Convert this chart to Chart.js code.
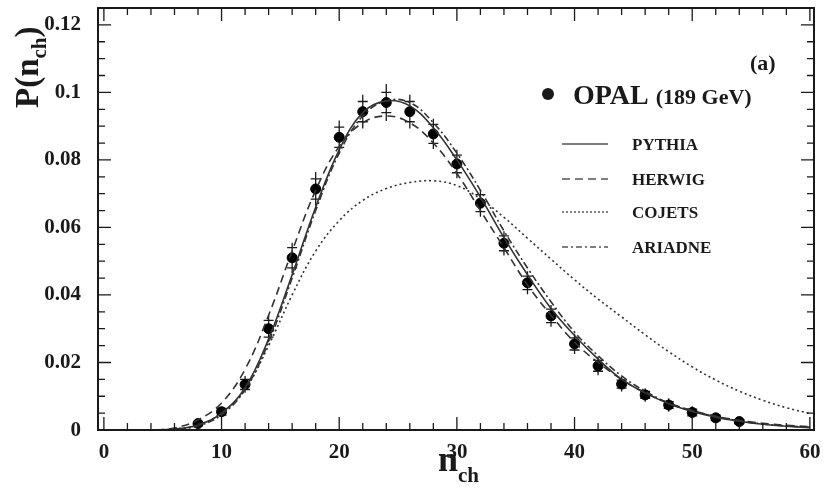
<!DOCTYPE html>
<html>
<head>
<meta charset="utf-8">
<script src="https://cdn.jsdelivr.net/npm/chart.js@4/dist/chart.umd.min.js"></script>
<style>
  body { margin: 0; background: #fff; }
  #wrap { width: 833px; height: 491px; }
</style>
</head>
<body>
<div id="wrap"><canvas id="chart" width="833" height="491"></canvas></div>
<script>
// OPAL data points (n_ch, P) with error bars
const opalN = [8, 10, 12, 14, 16, 18, 20, 22, 24, 26, 28, 30, 32, 34, 36, 38, 40, 42, 44, 46, 48, 50, 52, 54];
const opalP = [0.0019, 0.0054, 0.0135, 0.030, 0.051, 0.0714, 0.0867, 0.0943, 0.097, 0.0943, 0.0877, 0.0788, 0.0672, 0.0553, 0.0436, 0.0338, 0.0255, 0.019, 0.0136, 0.0104, 0.0074, 0.0052, 0.0036, 0.0025];
const opalErrOuter = [0.001, 0.0015, 0.0025, 0.004, 0.0045, 0.005, 0.005, 0.005, 0.0055, 0.005, 0.0045, 0.0042, 0.004, 0.0036, 0.0034, 0.0032, 0.003, 0.0028, 0.0022, 0.002, 0.002, 0.0018, 0.0015, 0.0012];
const opalErrInner = [0.0006, 0.001, 0.0015, 0.0025, 0.003, 0.003, 0.003, 0.003, 0.003, 0.003, 0.0028, 0.0026, 0.0025, 0.0022, 0.002, 0.002, 0.0018, 0.0016, 0.0012, 0.001, 0.001, 0.001, 0.0008, 0.0006];

// model curves, sampled every 2 units of n_ch
const curveN = [0, 2, 4, 6, 8, 10, 12, 14, 16, 18, 20, 22, 24, 26, 28, 30, 32, 34, 36, 38, 40, 42, 44, 46, 48, 50, 52, 54, 56, 58, 60];
const pythia = [0, 0, 0, 0.0003, 0.0015, 0.005, 0.0125, 0.027, 0.046, 0.066, 0.083, 0.094, 0.0975, 0.096, 0.0895, 0.080, 0.069, 0.057, 0.046, 0.036, 0.028, 0.021, 0.015, 0.011, 0.0078, 0.0055, 0.0038, 0.0026, 0.0017, 0.0011, 0.0007];
const herwig = [0, 0, 0, 0.0006, 0.003, 0.008, 0.018, 0.034, 0.053, 0.071, 0.084, 0.091, 0.093, 0.091, 0.085, 0.076, 0.065, 0.054, 0.043, 0.034, 0.026, 0.020, 0.015, 0.011, 0.008, 0.0058, 0.0041, 0.0029, 0.002, 0.0014, 0.001];
const cojets = [0, 0, 0, 0.0003, 0.0015, 0.005, 0.012, 0.025, 0.040, 0.053, 0.062, 0.068, 0.0715, 0.0733, 0.0738, 0.0724, 0.0685, 0.063, 0.0568, 0.0506, 0.0445, 0.0388, 0.0335, 0.0282, 0.0232, 0.0187, 0.0148, 0.0115, 0.0088, 0.0066, 0.0049];
const ariadne = [0, 0, 0, 0.0002, 0.0012, 0.0045, 0.012, 0.026, 0.045, 0.065, 0.082, 0.093, 0.0975, 0.097, 0.091, 0.082, 0.071, 0.059, 0.048, 0.038, 0.029, 0.022, 0.016, 0.0115, 0.008, 0.0057, 0.004, 0.0027, 0.0018, 0.0012, 0.0008];

const xTicks = [0, 10, 20, 30, 40, 50, 60];
const yTicks = [0, 0.02, 0.04, 0.06, 0.08, 0.1, 0.12];
const yTickLabels = ['0', '0.02', '0.04', '0.06', '0.08', '0.1', '0.12'];

const serif = '"Liberation Serif", "DejaVu Serif", serif';
const ink = '#1a1a1a';

function pts(xs, ys) {
  return xs.map((x, i) => ({ x: x, y: ys[i] }));
}

function curve(label, ys, dash) {
  return {
    type: 'line',
    label: label,
    data: pts(curveN, ys),
    borderColor: '#333',
    borderWidth: 1.6,
    borderDash: dash,
    pointRadius: 0,
    fill: false,
    tension: 0.4
  };
}

// frame, inward ticks, titles, legend, error bars
const decor = {
  id: 'decor',
  beforeDatasetsDraw(chart) {
    const ctx = chart.ctx;
    const xs = chart.scales.x, ys = chart.scales.y;
    ctx.save();
    ctx.strokeStyle = ink;
    ctx.lineWidth = 1.3;
    for (let i = 0; i < opalN.length; i++) {
      const px = xs.getPixelForValue(opalN[i]);
      const top = ys.getPixelForValue(opalP[i] + opalErrOuter[i]);
      const bot = ys.getPixelForValue(Math.max(0, opalP[i] - opalErrOuter[i]));
      ctx.beginPath();
      ctx.moveTo(px, top); ctx.lineTo(px, bot);
      [opalP[i] + opalErrInner[i], opalP[i] - opalErrInner[i]].forEach(v => {
        const py = ys.getPixelForValue(v);
        ctx.moveTo(px - 5, py); ctx.lineTo(px + 5, py);
      });
      ctx.stroke();
    }
    ctx.restore();
  },
  afterDraw(chart) {
    const ctx = chart.ctx;
    const a = chart.chartArea;
    const xs = chart.scales.x, ys = chart.scales.y;
    ctx.save();
    ctx.strokeStyle = ink;
    ctx.lineWidth = 2;
    ctx.strokeRect(a.left, a.top, a.right - a.left, a.bottom - a.top);

    ctx.lineWidth = 1.3;
    ctx.beginPath();
    for (let v = 0; v <= 60; v += 2) {
      const px = xs.getPixelForValue(v);
      const len = v % 10 === 0 ? 13 : 7;
      ctx.moveTo(px, a.bottom); ctx.lineTo(px, a.bottom - len);
      ctx.moveTo(px, a.top); ctx.lineTo(px, a.top + len);
    }
    for (let k = 0; k <= 24; k++) {
      const py = ys.getPixelForValue(k * 0.005);
      const len = k % 4 === 0 ? 13 : 7;
      ctx.moveTo(a.left, py); ctx.lineTo(a.left + len, py);
      ctx.moveTo(a.right, py); ctx.lineTo(a.right - len, py);
    }
    ctx.stroke();

    ctx.fillStyle = ink;

    // y tick labels
    ctx.font = 'bold 21px ' + serif;
    ctx.textAlign = 'right';
    ctx.textBaseline = 'middle';
    yTicks.forEach((v, i) => {
      ctx.fillText(yTickLabels[i], 81, ys.getPixelForValue(v) + (v === 0 ? 1 : 0));
    });

    ctx.textBaseline = 'alphabetic';

    // y title: P(n_ch)
    ctx.save();
    ctx.translate(38, 108);
    ctx.rotate(-Math.PI / 2);
    ctx.textAlign = 'left';
    let x = 0;
    ctx.font = 'bold 33px ' + serif;
    ctx.fillText('P(n', x, 0); x += ctx.measureText('P(n').width;
    ctx.font = 'bold 21px ' + serif;
    ctx.fillText('ch', x, 8); x += ctx.measureText('ch').width;
    ctx.font = 'bold 33px ' + serif;
    ctx.fillText(')', x, 0);
    ctx.restore();

    // x title: n_ch
    ctx.font = 'bold 36px ' + serif;
    ctx.textAlign = 'left';
    ctx.fillText('n', 438, 471);
    const nw = ctx.measureText('n').width;
    ctx.font = 'bold 21px ' + serif;
    ctx.fillText('ch', 438 + nw, 482);

    // panel tag
    ctx.font = 'bold 22px ' + serif;
    ctx.fillText('(a)', 750, 70);

    // legend
    ctx.beginPath();
    ctx.arc(548, 94, 6, 0, Math.PI * 2);
    ctx.fill();
    ctx.font = 'bold 28px ' + serif;
    ctx.fillText('OPAL', 573, 104);
    const ow = ctx.measureText('OPAL ').width;
    ctx.font = 'bold 22px ' + serif;
    ctx.fillText('(189 GeV)', 573 + ow, 104);

    const rows = [
      ['PYTHIA', [], 144],
      ['HERWIG', [8, 5], 179],
      ['COJETS', [2, 2], 212],
      ['ARIADNE', [6, 3, 2, 3], 247]
    ];
    ctx.font = 'bold 17px ' + serif;
    rows.forEach(r => {
      ctx.save();
      ctx.strokeStyle = '#555';
      ctx.lineWidth = 1.6;
      ctx.setLineDash(r[1]);
      ctx.beginPath();
      ctx.moveTo(562, r[2]); ctx.lineTo(608, r[2]);
      ctx.stroke();
      ctx.restore();
      ctx.fillText(r[0], 632, r[2] + 6);
    });
    ctx.restore();
  }
};

new Chart(document.getElementById('chart'), {
  type: 'scatter',
  data: {
    datasets: [
      curve('PYTHIA', pythia, []),
      curve('HERWIG', herwig, [8, 5]),
      curve('COJETS', cojets, [2, 3]),
      curve('ARIADNE', ariadne, [7, 3, 2, 3]),
      {
        type: 'scatter',
        label: 'OPAL (189 GeV)',
        data: pts(opalN, opalP),
        backgroundColor: '#000',
        borderColor: '#000',
        pointRadius: 5
      }
    ]
  },
  options: {
    responsive: false,
    animation: false,
    layout: { padding: { left: 0, right: 19, top: 8, bottom: 0 } },
    plugins: { legend: { display: false }, tooltip: { enabled: false } },
    scales: {
      x: {
        type: 'linear',
        min: -0.5,
        max: 60.35,
        grid: { display: false, drawTicks: false },
        border: { display: false },
        afterBuildTicks: s => { s.ticks = xTicks.map(v => ({ value: v })); },
        afterFit: s => { s.height = 61; },
        ticks: {
          padding: 10,
          color: ink,
          font: { family: serif, size: 21, weight: 'bold' },
          maxRotation: 0
        }
      },
      y: {
        type: 'linear',
        min: 0,
        max: 0.125,
        grid: { display: false, drawTicks: false },
        border: { display: false },
        afterBuildTicks: s => { s.ticks = yTicks.map(v => ({ value: v })); },
        afterFit: s => { s.width = 98; },
        ticks: { display: false }
      }
    }
  },
  plugins: [decor]
});
</script>
</body>
</html>
